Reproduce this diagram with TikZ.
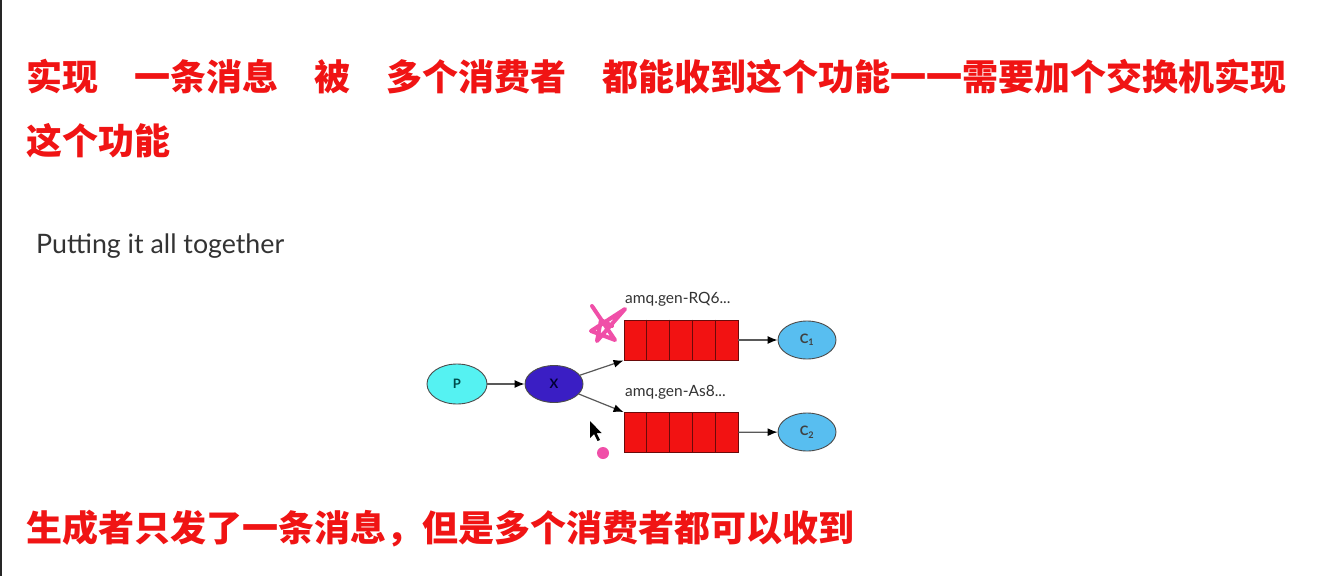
\documentclass[tikz,border=0pt]{standalone}
\usepackage{fontspec}
\newfontfamily\cjk{Noto Sans CJK SC}
\newfontfamily\latofont{Lato}
\usetikzlibrary{arrows.meta,calc,shapes.geometric}
\definecolor{hred}{HTML}{F01414}
\definecolor{pfill}{HTML}{55F2F2}
\definecolor{xfill}{HTML}{3A1EC4}
\definecolor{qred}{HTML}{F21212}
\definecolor{qborder}{HTML}{6A0A0A}
\definecolor{cfill}{HTML}{58BEF0}
\definecolor{pinkish}{HTML}{F04FA8}
\definecolor{txtgray}{HTML}{333333}
\tikzset{
  heading/.style={anchor=base west, inner sep=0pt, text=hred, font=\cjk\bfseries\fontsize{36}{40}\selectfont},
  nodeell/.style={ellipse, draw=black!70, line width=0.9pt, inner sep=0pt},
  queuebox/.style={rectangle, draw=qborder, fill=qred, line width=0.9pt, minimum width=114pt, minimum height=40pt, inner sep=0pt},
  qlabel/.style={anchor=base west, inner sep=0pt, text=txtgray, font=\latofont\fontsize{15.5}{17}\selectfont},
  flow/.style={draw=black!65, line width=1.2pt, -{Latex[length=10pt,width=8pt,black]}},
  innerlab/.style={font=\latofont\bfseries\fontsize{13}{14}\selectfont}
}
\begin{document}
\begin{tikzpicture}[x=1pt,y=-1pt]
\useasboundingbox (0,0) rectangle (1330,576);
\fill[white] (0,0) rectangle (1330,576);
\draw[black!85, line width=1.5pt] (0.75,0) -- (0.75,576);
% headings
\node[heading] (h1) at (26,90) {实现\hspace{1em}一条消息\hspace{1em}被\hspace{1em}多个消费者\hspace{1em}都能收到这个功能一一需要加个交换机实现};
\node[heading] (h2) at (26,154) {这个功能};
\node[heading] (h3) at (26,541) {生成者只发了一条消息，但是多个消费者都可以收到};
% subtitle
\node[anchor=base west, inner sep=0pt, text=txtgray] (sub) at (36,253) {\resizebox{248pt}{!}{\latofont\fontsize{24}{26}\selectfont Putting it all together}};
% diagram nodes
\node[nodeell, fill=pfill, minimum width=60pt, minimum height=40pt, text=teal!60!black, innerlab] (P) at (457,384) {P};
\node[nodeell, fill=xfill, minimum width=58pt, minimum height=37pt, text=black!80!blue, innerlab] (X) at (554,384) {X};
\node[queuebox] (q1) at (681,340) {};
\node[queuebox] (q2) at (681,432.5) {};
\foreach \q in {q1,q2}{
  \foreach \i in {1,2,3,4}{
    \draw[qborder, line width=0.9pt] ($(\q.north west)!\i/5!(\q.north east)$) -- ($(\q.south west)!\i/5!(\q.south east)$);
  }
}
\node[nodeell, fill=cfill, minimum width=58pt, minimum height=38pt, innerlab, text=black!75] (C1) at (807,340) {C\textsubscript{1}};
\node[nodeell, fill=cfill, minimum width=58pt, minimum height=38pt, innerlab, text=black!75] (C2) at (807,432) {C\textsubscript{2}};
\node[qlabel] (l1) at (625,303) {amq.gen-RQ6...};
\node[qlabel] (l2) at (625,396) {amq.gen-As8...};
% connectors
\draw[flow] (P) -- (X);
\draw[flow] (X) -- (q1.south west);
\draw[flow] (X) -- (q2.north west);
\draw[flow] (q1) -- (C1);
\draw[flow] (q2) -- (C2);
% annotations
\draw[pinkish, line width=4pt, line cap=round, line join=round]
  (592,306) -- (615,340) -- (591,331) -- (625,309) -- (597,341) -- (601,320) -- (612,326);
\fill[pinkish] (603,453) circle (6);
\fill[black] (590,421) -- (590,438) -- (594,434) -- (597.5,441) -- (600,440) -- (596.5,433) -- (601.5,433) -- cycle;
\end{tikzpicture}
\end{document}
